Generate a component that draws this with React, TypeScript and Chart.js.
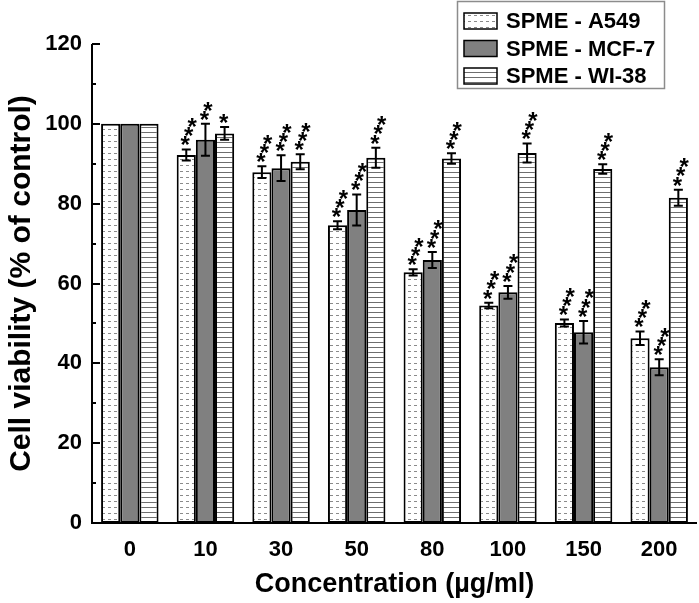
import React, { useEffect, useRef } from "react";
import { Chart, registerables } from "chart.js";

Chart.register(...registerables);

// ---------- data ----------
const categories = ["0", "10", "30", "50", "80", "100", "150", "200"];
const seriesNames = ["SPME - A549", "SPME - MCF-7", "SPME - WI-38"];

const a549 = [100, 92.2, 87.9, 74.6, 62.8, 54.5, 50.1, 46.3];
const mcf7 = [100, 96.0, 88.9, 78.4, 65.9, 57.8, 47.8, 39.0];
const wi38 = [100, 97.6, 90.5, 91.5, 91.3, 92.7, 88.7, 81.5];

const a549Err = [0, 1.4, 1.5, 1.0, 0.8, 0.7, 0.9, 1.7];
const mcf7Err = [0, 4.0, 3.2, 3.9, 2.0, 1.6, 2.8, 2.0];
const wi38Err = [0, 1.6, 1.9, 2.5, 1.3, 2.4, 1.2, 2.0];

const a549Sig = ["", "***", "***", "***", "***", "***", "***", "***"];
const mcf7Sig = ["", "**", "***", "***", "***", "***", "***", "***"];
const wi38Sig = ["", "*", "***", "***", "***", "***", "***", "***"];

const yMin = 0;
const yMax = 120;
const yStep = 20;
const yMinorStep = 10;

const xTitle = "Concentration (µg/ml)";
const yTitle = "Cell viability (% of control)";

const FONT = "'Liberation Sans', Arial, Helvetica, sans-serif";

function makePattern(kind: string): CanvasPattern | string {
  const c = document.createElement("canvas");
  const g = c.getContext("2d")!;
  if (kind === "dots") {
    c.width = 6;
    c.height = 6;
    g.fillStyle = "#ffffff";
    g.fillRect(0, 0, 6, 6);
    g.fillStyle = "#8a8a8a";
    g.fillRect(0, 3, 3, 1);
  } else if (kind === "lines") {
    c.width = 4;
    c.height = 5;
    g.fillStyle = "#ffffff";
    g.fillRect(0, 0, 4, 5);
    g.fillStyle = "#6e6e6e";
    g.fillRect(0, 2, 4, 1);
  } else {
    return "#808080";
  }
  return g.createPattern(c, "repeat")!;
}

export default function App() {
  const ref = useRef<HTMLCanvasElement | null>(null);

  useEffect(() => {
    document.body.style.margin = "0";
    const canvas = ref.current!;
    const fills = [makePattern("dots"), makePattern("solid"), makePattern("lines")];
    const values = [a549, mcf7, wi38];
    const errs = [a549Err, mcf7Err, wi38Err];
    const sigs = [a549Sig, mcf7Sig, wi38Sig];

    const overlay = {
      id: "overlay",
      afterDatasetsDraw(chart: any) {
        const ctx = chart.ctx as CanvasRenderingContext2D;
        const ys = chart.scales.y;
        ctx.save();
        values.forEach((vals, di) => {
          const meta = chart.getDatasetMeta(di);
          meta.data.forEach((bar: any, i: number) => {
            const v = vals[i];
            const e = errs[di][i];
            const x = bar.x;
            if (e > 0) {
              const yt = ys.getPixelForValue(v + e);
              const yb = ys.getPixelForValue(v - e);
              ctx.strokeStyle = "#000";
              ctx.lineWidth = 2;
              ctx.beginPath();
              ctx.moveTo(x, yt);
              ctx.lineTo(x, yb);
              ctx.moveTo(x - 4.5, yt);
              ctx.lineTo(x + 4.5, yt);
              ctx.moveTo(x - 4.5, yb);
              ctx.lineTo(x + 4.5, yb);
              ctx.stroke();
            }
            const s = sigs[di][i];
            if (s) {
              const top = ys.getPixelForValue(v + e);
              ctx.fillStyle = "#000";
              ctx.font = `bold 24px ${FONT}`;
              ctx.textAlign = "center";
              ctx.textBaseline = "alphabetic";
              for (let k = 0; k < s.length; k++) {
                const cx = x - 1 + k * 3.4;
                const cy = top - 10 - k * 9.3;
                ctx.fillText("*", cx, cy + 14);
              }
            }
          });
        });
        ctx.restore();
      },
      afterDraw(chart: any) {
        const ctx = chart.ctx as CanvasRenderingContext2D;
        const ys = chart.scales.y;
        const area = chart.chartArea;
        ctx.save();
        // axes
        ctx.strokeStyle = "#000";
        ctx.lineWidth = 2;
        ctx.beginPath();
        ctx.moveTo(area.left, area.top);
        ctx.lineTo(area.left, area.bottom);
        ctx.lineTo(area.right, area.bottom);
        ctx.stroke();
        // ticks (inward)
        ctx.beginPath();
        for (let v = yMin; v <= yMax; v += yMinorStep) {
          const py = Math.round(ys.getPixelForValue(v));
          const len = v % yStep === 0 ? 8 : 4;
          ctx.moveTo(area.left, py);
          ctx.lineTo(area.left + len, py);
        }
        ctx.stroke();
        // legend
        ctx.strokeStyle = "#8c8c8c";
        ctx.lineWidth = 1.5;
        ctx.strokeRect(457.5, 1.5, 207, 87);
        const rows = [21, 48.5, 76];
        seriesNames.forEach((name, i) => {
          const cy = rows[i];
          ctx.fillStyle = fills[i] as any;
          ctx.fillRect(464, cy - 8, 33, 16);
          ctx.strokeStyle = "#000";
          ctx.lineWidth = 1.5;
          ctx.strokeRect(464, cy - 8, 33, 16);
          ctx.fillStyle = "#000";
          ctx.font = `bold 22px ${FONT}`;
          ctx.textAlign = "left";
          ctx.textBaseline = "middle";
          ctx.fillText(name, 506, cy + 1);
        });
        ctx.restore();
      },
    };

    const chart = new Chart(canvas, {
      type: "bar",
      data: {
        labels: categories,
        datasets: values.map((vals, i) => ({
          label: seriesNames[i],
          data: vals,
          backgroundColor: fills[i] as any,
          borderColor: "#000",
          borderWidth: 2,
          borderSkipped: false,
          categoryPercentage: 0.76,
          barPercentage: 1.0,
        })),
      },
      options: {
        responsive: false,
        animation: false,
        devicePixelRatio: 1,
        layout: { padding: { top: 44, right: 2, left: 0, bottom: 0 } },
        plugins: {
          legend: { display: false },
          tooltip: { enabled: false },
        },
        scales: {
          x: {
            grid: { display: false, drawTicks: false },
            border: { display: false },
            ticks: {
              color: "#000",
              font: { family: FONT, size: 22, weight: "bold" },
              padding: 14,
            },
            title: {
              display: true,
              text: xTitle,
              color: "#000",
              font: { family: FONT, size: 27, weight: "bold" },
              padding: { top: 2, bottom: 2 },
            },
            afterFit(scale: any) {
              scale.height = 80;
            },
          },
          y: {
            min: yMin,
            max: yMax,
            grid: { display: false, drawTicks: false },
            border: { display: false },
            ticks: {
              stepSize: yStep,
              color: "#000",
              font: { family: FONT, size: 22, weight: "bold" },
              padding: 10,
            },
            title: {
              display: true,
              text: yTitle,
              color: "#000",
              font: { family: FONT, size: 30, weight: "bold" },
              padding: { top: 4, bottom: 4 },
            },
            afterFit(scale: any) {
              scale.width = 92;
            },
          },
        },
      },
      plugins: [overlay],
    });

    return () => chart.destroy();
  }, []);

  return (
    <div style={{ width: 699, height: 603, background: "#fff" }}>
      <canvas ref={ref} width={699} height={603} />
    </div>
  );
}
